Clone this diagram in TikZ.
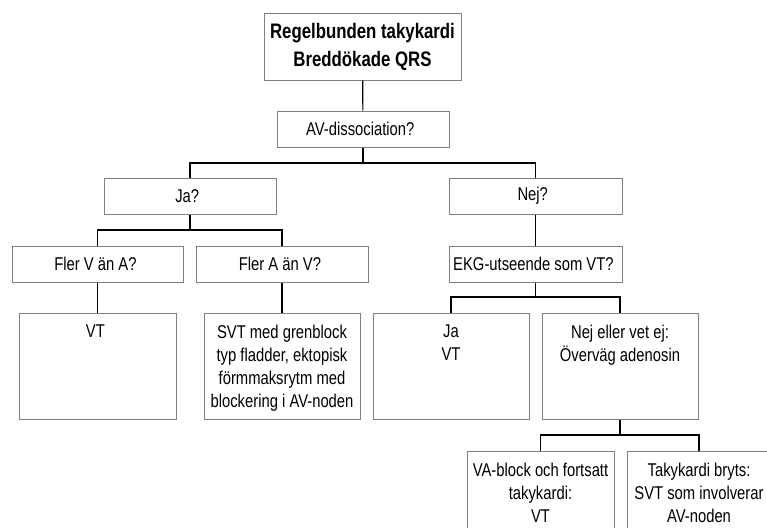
\documentclass[tikz,border=0pt]{standalone}
\usepackage{fontspec}
\setmainfont{Liberation Sans}[FakeStretch=0.8]
\usepackage{tikz}
\usetikzlibrary{positioning}

\definecolor{boxgray}{RGB}{128,128,128}

\tikzset{
  box/.style={draw=boxgray, line width=1pt, minimum height=36pt, inner sep=0pt,
    align=center, font=\fontsize{18.5}{23}\selectfont},
  tallbox/.style={box, minimum height=106pt},
  boxtext/.style={anchor=north, align=center, inner xsep=0pt, inner ysep=12pt,
    font=\fontsize{18.5}{23}\selectfont},
  link/.style={line width=1.2pt}
}

\begin{document}
\begin{tikzpicture}[x=1pt, y=-1pt]
  \useasboundingbox (0,0) rectangle (767,527);
  \clip (0,0) rectangle (767,527);

  \node[box, minimum width=197pt, minimum height=66pt,
        font=\fontsize{21}{28}\selectfont\bfseries] (Title) at (362.5, 47) {
    Regelbunden takykardi\\Breddökade QRS
  };

  \node[box, minimum width=172pt] (AVD) at (363, 129) {
    AV-dissociation?
  };

  \node[box, minimum width=172pt] (Ja) at (190, 196) {
    Ja?
  };

  \node[box, minimum width=173pt] (Nej) at (535.5, 196) {
    Nej?
  };

  \node[box, minimum width=171pt] (FlerV) at (97.5, 264) {
    Fler V än A?
  };

  \node[box, minimum width=172pt] (FlerA) at (282, 264) {
    Fler A än V?
  };

  \node[box, minimum width=173pt] (EKG) at (535.5, 264) {
    EKG-utseende som VT?
  };

  \node[tallbox, minimum width=157pt] (VT) at (97.5, 366) {};
  \node[boxtext] (VTtext) at (VT.north) {
    VT
  };

  \node[tallbox, minimum width=156pt] (SVT) at (282, 366) {};
  \node[boxtext] (SVTtext) at (SVT.north) {
    SVT med grenblock\\typ fladder, ektopisk\\förmmaksrytm med\\blockering i AV-noden
  };

  \node[tallbox, minimum width=156pt] (JaVT) at (451, 366) {};
  \node[boxtext] (JaVTtext) at (JaVT.north) {
    Ja\\VT
  };

  \node[tallbox, minimum width=156pt] (NejVet) at (620, 366) {};
  \node[boxtext] (NejVettext) at (NejVet.north) {
    Nej eller vet ej:\\Överväg adenosin
  };

  \node[tallbox, minimum width=147pt, anchor=north] (VABlock) at (540.5, 451) {};
  \node[boxtext] (VABlocktext) at (VABlock.north) {
    VA-block och fortsatt\\takykardi:\\VT
  };

  \node[tallbox, minimum width=144pt, anchor=north] (Bryts) at (699, 451) {};
  \node[boxtext] (Brytstext) at (Bryts.north) {
    Takykardi bryts:\\SVT som involverar\\AV-noden
  };

  \coordinate (S1) at (363, 163);
  \coordinate (S2) at (190, 230);
  \coordinate (S3) at (535.5, 297);
  \coordinate (S4) at (620, 435);

  \draw[link] (Title) -- (AVD);
  \draw[link] (AVD.south) -- (S1);
  \draw[link] (S1) -| (Ja.north);
  \draw[link] (S1) -| (Nej.north);
  \draw[link] (Ja.south) -- (S2);
  \draw[link] (S2) -| (FlerV.north);
  \draw[link] (S2) -| (FlerA.north);
  \draw[link] (FlerV) -- (VT);
  \draw[link] (FlerA) -- (SVT);
  \draw[link] (Nej) -- (EKG);
  \draw[link] (EKG.south) -- (S3);
  \draw[link] (S3) -| (JaVT.north);
  \draw[link] (S3) -| (NejVet.north);
  \draw[link] (NejVet.south) -- (S4);
  \draw[link] (S4) -| (VABlock.north);
  \draw[link] (S4) -| (Bryts.north);
\end{tikzpicture}
\end{document}
